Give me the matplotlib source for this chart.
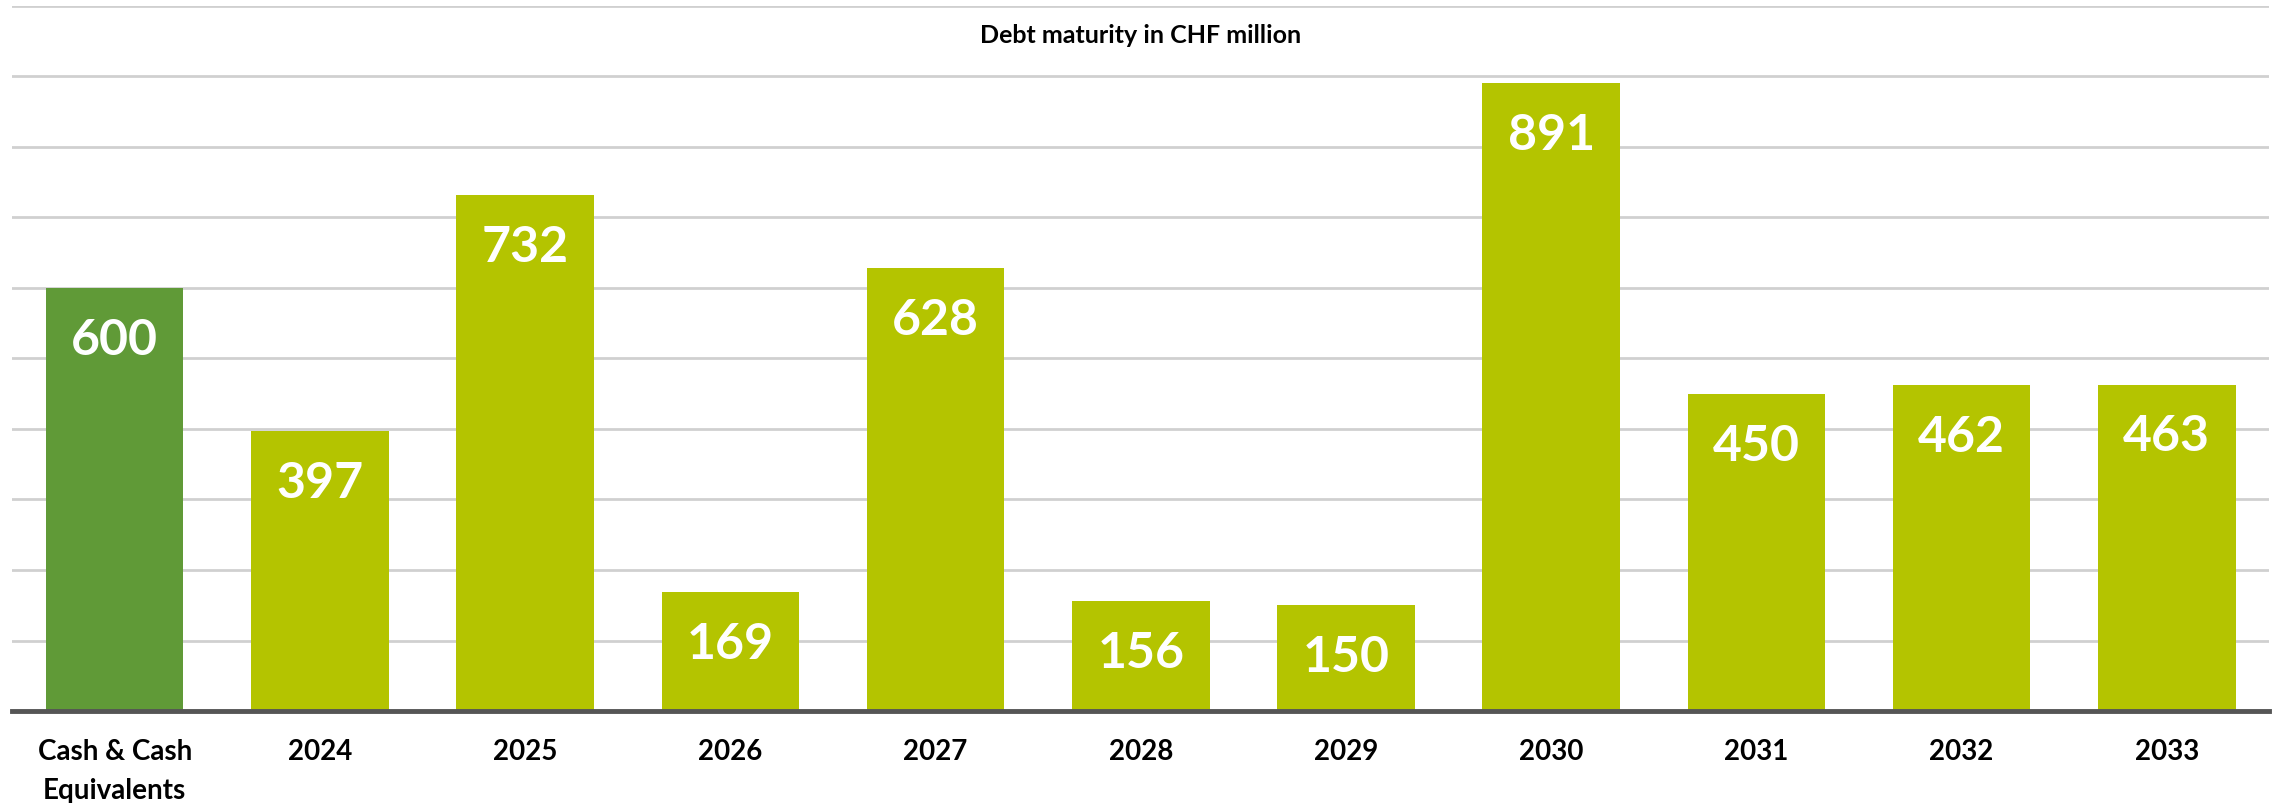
import matplotlib.pyplot as plt

# data
categories = ["Cash & Cash\nEquivalents", "2024", "2025", "2026", "2027", "2028",
              "2029", "2030", "2031", "2032", "2033"]
values = [600, 397, 732, 169, 628, 156, 150, 891, 450, 462, 463]
title = "Debt maturity in CHF million"

cash_color = "#609A37"
debt_color = "#B4C400"
colors = [cash_color] + [debt_color] * (len(values) - 1)

plt.rcParams['font.family'] = ['Lato', 'DejaVu Sans']

fig = plt.figure(figsize=(22.74, 8.04), dpi=100)
ax = fig.add_axes([0.0053, 0.1144, 0.9927, 0.877])

x = list(range(len(categories)))
bars = ax.bar(x, values, width=0.67, color=colors, zorder=2)

for xi, v in zip(x, values):
    ax.annotate(str(v), (xi, v), xytext=(0, -37), textcoords='offset points',
                ha='center', va='center', color='white', fontsize=36,
                fontweight='bold', zorder=3)

ax.set_xlim(-0.5, len(categories) - 0.5)
ax.set_ylim(0, 1000)
ax.set_yticks(range(0, 1001, 100))
ax.yaxis.grid(True, color='#D0D0D0', linewidth=2, zorder=0)
ax.tick_params(axis='y', left=False, labelleft=False)
ax.tick_params(axis='x', bottom=False, pad=16)
ax.set_xticks(x)
ax.set_xticklabels(categories, fontsize=20, fontweight='bold', linespacing=1.6,
                   va='top')

for side in ['top', 'right', 'left']:
    ax.spines[side].set_visible(False)
ax.spines['bottom'].set_color('#555555')
ax.spines['bottom'].set_linewidth(3.5)
ax.spines['bottom'].set_zorder(4)

ax.text((len(categories) - 1) / 2, 960, title, ha='center', va='center',
        fontsize=18, fontweight='bold')

fig.savefig("out.png", dpi=100)
